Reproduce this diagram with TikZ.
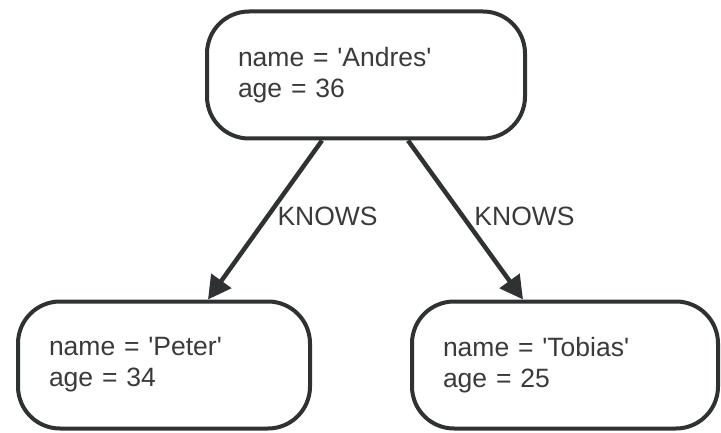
\documentclass[tikz,border=0pt]{standalone}
\usepackage{fontspec}
\setmainfont{Liberation Sans}[Ligatures=TeXOff]
\usetikzlibrary{arrows.meta}
\definecolor{ink}{HTML}{2F3233}
\definecolor{txt}{HTML}{3A3A3A}
\begin{document}
\begin{tikzpicture}[x=1pt,y=-1pt,
  person/.style={draw=ink, line width=4pt, rounded corners=42pt, fill=white,
    minimum width=#1, minimum height=127pt, text width=#1-62pt, align=left,
    inner xsep=0pt, text=txt, font=\fontsize{26.5}{31}\selectfont},
  rel/.style={draw=ink, line width=4.5pt,
    -{Triangle[length=23pt,width=24pt]}},
  rellabel/.style={text=txt, font=\fontsize{26.5}{31}\selectfont, inner sep=0pt, anchor=west}]
  \useasboundingbox (0,0) rectangle (721,433);
  \node[person=318pt] (andres) at (366,75) {name = 'Andres'\\age = 36};
  \node[person=292pt] (peter) at (164,365) {name = 'Peter'\\age = 34};
  \node[person=306pt] (tobias) at (565,365) {name = 'Tobias'\\age = 25};
  \draw[rel] ([xshift=-44pt]andres.south) -- ([xshift=44pt]peter.north)
    node[rellabel, pos=0.48, xshift=8pt] {KNOWS};
  \draw[rel] ([xshift=42pt]andres.south) -- ([xshift=-42pt]tobias.north)
    node[rellabel, pos=0.48, xshift=9pt] {KNOWS};
\end{tikzpicture}
\end{document}
